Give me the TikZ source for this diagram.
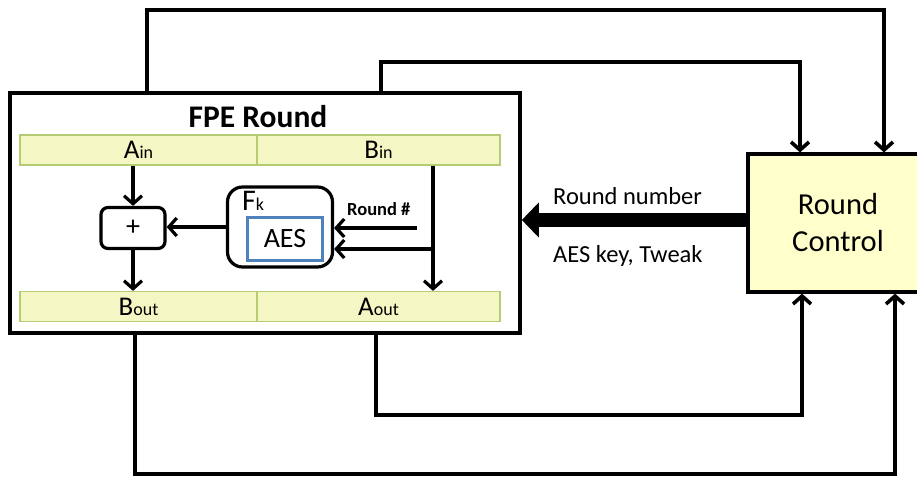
\documentclass[tikz,border=0pt]{standalone}
\usepackage{fontspec}
\setmainfont{Carlito}
\usetikzlibrary{arrows.meta}

\definecolor{barfill}{HTML}{F4F6C4}
\definecolor{barline}{HTML}{B5CC74}
\definecolor{rcfill}{HTML}{FFFFCC}
\definecolor{aesblue}{HTML}{4F81BD}

\newcommand{\lowtxt}[1]{{\fontsize{18}{18}\selectfont #1}}

\tikzset{
  box/.style={draw, line width=3.2pt, inner sep=0pt},
  bar/.style={draw=barline, line width=1.2pt, fill=barfill, minimum height=30pt,
              inner sep=0pt, font=\fontsize{27}{27}\selectfont},
  arr/.style={line width=3.2pt, -{Straight Barb[length=8pt,width=18pt]}},
  wire/.style={line width=3.6pt},
}

\begin{document}
\begin{tikzpicture}[x=1pt,y=-1pt]
    \useasboundingbox (0,0) rectangle (917,477);

    % FPE Round 外框
    \node[box, line width=3.6pt, minimum width=510pt, minimum height=240pt] (fpe) at (265,213) {};
    \node[font=\bfseries\fontsize{31.5}{31.5}\selectfont] (title) at (258,117) {FPE Round};

    % 输入 / 输出
    \node[bar, minimum width=237pt] (ain) at (138.5,150) {A\lowtxt{in}};
    \node[bar, minimum width=243pt] (bin) at (378.5,150) {B\lowtxt{in}};
    \node[bar, minimum width=237pt] (bout) at (138.5,306.5) {B\lowtxt{out}};
    \node[bar, minimum width=243pt] (aout) at (378.5,306.5) {A\lowtxt{out}};

    % 加法和 F_k
    \node[box, rounded corners=7pt, minimum width=64pt, minimum height=41pt,
          font=\fontsize{28}{28}\selectfont] (plus) at (133,228) {+};
    \node[box, rounded corners=15pt, minimum width=105pt, minimum height=80pt] (fk) at (280,227) {};
    \node[draw=aesblue, line width=2.6pt, minimum width=75pt, minimum height=43pt,
          font=\fontsize{28}{28}\selectfont] (aes) at (285,239) {AES};
    \node[anchor=base west, inner sep=0pt, font=\fontsize{30}{30}\selectfont] (fklabel) at (242,210) {F\lowtxt{k}};
    \node[anchor=base west, inner sep=0pt, font=\bfseries\fontsize{18.5}{18.5}\selectfont] (rnd) at (347,215) {Round \#};

    % Round Control
    \node[box, fill=rcfill, minimum width=180pt, minimum height=138pt, align=center,
          font=\fontsize{30.5}{37}\selectfont] (rc) at (838,223) {Round\\Control};

    % 粗箭头
    \draw[line width=14pt, -{Triangle[width=34pt,length=17pt]}]
         (rc.west |- 0,220) -- (fpe.east |- 0,220);
    \node[anchor=base west, inner sep=0pt, font=\fontsize{24.5}{24.5}\selectfont] (rnum) at (553,204) {Round number};
    \node[anchor=base west, inner sep=0pt, font=\fontsize{24.5}{24.5}\selectfont] (keys) at (553,262) {AES key, Tweak};

    % 内部连线
    \draw[arr] (plus |- ain.south) -- (plus.north);
    \draw[arr] (plus.south) -- (plus |- bout.north);
    \draw[arr] (fk.west) -- (fk.west -| plus.east);
    \coordinate (bx) at (433,0);
    \draw[arr] (bx |- bin.south) -- (bx |- aout.north);
    \coordinate (rn) at (417,228);
    \draw[arr] (rn) -- (rn -| fk.east);
    \coordinate (br) at (433,249);
    \draw[arr] (br) -- (br -| fk.east);

    % 外部回路
    \coordinate (o1) at (147,10);
    \coordinate (o2) at (884,10);
    \draw[arr, wire] (o1 |- fpe.north) -- (o1) -- (o2) -- (o2 |- rc.north);
    \coordinate (i1) at (381,62);
    \coordinate (i2) at (800,62);
    \draw[arr, wire] (i1 |- fpe.north) -- (i1) -- (i2) -- (i2 |- rc.north);
    \coordinate (i3) at (376,415);
    \coordinate (i4) at (802,415);
    \draw[arr, wire] (i3 |- fpe.south) -- (i3) -- (i4) -- (i4 |- rc.south);
    \coordinate (o3) at (135,474);
    \coordinate (o4) at (895,474);
    \draw[arr, wire] (o3 |- fpe.south) -- (o3) -- (o4) -- (o4 |- rc.south);
\end{tikzpicture}
\end{document}
